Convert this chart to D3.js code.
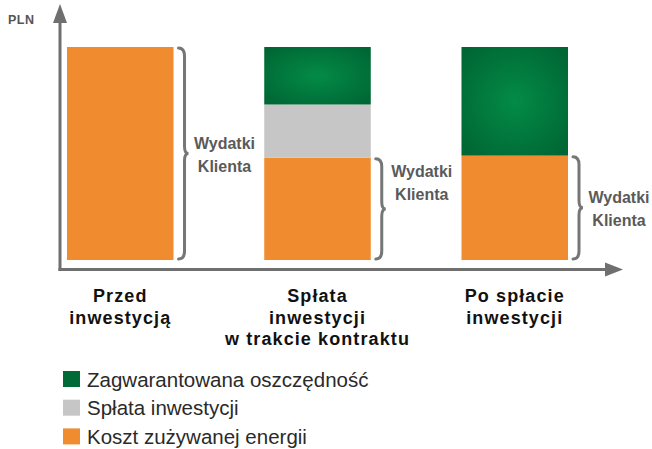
<!DOCTYPE html>
<html>
<head>
<meta charset="utf-8">
<script src="https://cdn.jsdelivr.net/npm/d3@7"></script>
<style>
  body { margin: 0; background: #fff; }
  svg { display: block; font-family: "Liberation Sans", Arial, sans-serif; }
</style>
</head>
<body>
<svg></svg>
<script>
// data
const categories = ["Przed inwestycją", "Spłata inwestycji w trakcie kontraktu", "Po spłacie inwestycji"];
const categoryLines = [["Przed", "inwestycją"], ["Spłata", "inwestycji", "w trakcie kontraktu"], ["Po spłacie", "inwestycji"]];
const energyCost = [100, 48, 49];      // Koszt zużywanej energii
const repayment = [0, 25, 0];           // Spłata inwestycji
const savings = [0, 27, 51];            // Zagwarantowana oszczędność
const seriesNames = ["Zagwarantowana oszczędność", "Spłata inwestycji", "Koszt zużywanej energii"];
const braceLabel = ["Wydatki", "Klienta"];
const yLabel = "PLN";

const svgWidth = 652;
const svgHeight = 449;

const svg = d3.select("svg")
    .attr("width", svgWidth)
    .attr("height", svgHeight);

const colors = {
    energy: "#f08c2f",
    repay: "#c6c6c6",
    axis: "#6f6f6f",
    brace: "#767676"
};

const x = d3.scaleBand()
    .domain(categories)
    .range([67, 568])
    .paddingInner(0.46)
    .paddingOuter(0);

const y = d3.scaleLinear()
    .domain([0, 100])
    .range([260, 47]);

// green radial gradient
const defs = svg.append("defs");
const grad = defs.append("radialGradient")
    .attr("id", "greenGrad")
    .attr("cx", "50%").attr("cy", "50%").attr("r", "65%");
grad.append("stop").attr("offset", "0%").attr("stop-color", "#038b46");
grad.append("stop").attr("offset", "100%").attr("stop-color", "#006634");

// stacked data
const rows = categories.map((c, i) => ({
    cat: c, energy: energyCost[i], repay: repayment[i], save: savings[i]
}));
const stack = d3.stack().keys(["energy", "repay", "save"])(rows);
const fills = { energy: colors.energy, repay: colors.repay, save: "url(#greenGrad)" };

const layer = svg.selectAll(".layer")
    .data(stack)
    .enter()
    .append("g")
    .attr("fill", d => fills[d.key]);

layer.selectAll("rect")
    .data(d => d.filter(p => p[1] - p[0] > 0))
    .enter()
    .append("rect")
    .attr("x", d => x(d.data.cat))
    .attr("y", d => y(d[1]))
    .attr("width", x.bandwidth())
    .attr("height", d => y(d[0]) - y(d[1]));

// axes (plain arrows, no ticks)
const x0 = 60, yBase = 269.5;
svg.append("line")
    .attr("x1", x0).attr("y1", yBase + 1.5)
    .attr("x2", x0).attr("y2", 20)
    .attr("stroke", colors.axis).attr("stroke-width", 3);
svg.append("path")
    .attr("d", `M${x0},4 L${x0 + 7},23 L${x0 - 7},23 Z`)
    .attr("fill", colors.axis);

const xEnd = x.range()[1] + 55;
svg.append("line")
    .attr("x1", x0 - 1.5).attr("y1", yBase)
    .attr("x2", xEnd - 14).attr("y2", yBase)
    .attr("stroke", colors.axis).attr("stroke-width", 3);
svg.append("path")
    .attr("d", `M${xEnd},${yBase} L${xEnd - 18},${yBase - 7} L${xEnd - 18},${yBase + 7} Z`)
    .attr("fill", colors.axis);

svg.append("text")
    .attr("x", 8).attr("y", 24)
    .attr("font-size", 12.5).attr("font-weight", "bold")
    .attr("letter-spacing", 0.5)
    .attr("fill", "#555")
    .text(yLabel);

// braces for "Wydatki Klienta" (energy cost portion)
const labelShift = [0, -27, 0];
const braces = svg.selectAll(".brace")
    .data(rows)
    .enter()
    .append("g")
    .attr("class", "brace");

braces.append("path")
    .attr("fill", "none")
    .attr("stroke", colors.brace)
    .attr("stroke-width", 3)
    .attr("stroke-linecap", "round")
    .attr("d", d => {
        const bx = x(d.cat) + x.bandwidth() + 5;
        const top = y(d.energy), bot = y(0);
        const mid = (top + bot) / 2;
        return `M${bx},${top + 1} Q${bx + 6},${top + 1} ${bx + 6},${top + 9}` +
            ` L${bx + 6},${mid - 7} Q${bx + 6},${mid} ${bx + 10},${mid}` +
            ` Q${bx + 6},${mid} ${bx + 6},${mid + 7}` +
            ` L${bx + 6},${bot - 9} Q${bx + 6},${bot - 1} ${bx},${bot - 1}`;
    });

braces.append("text")
    .attr("font-size", 16).attr("font-weight", "bold")
    .attr("fill", "#5a5a5a")
    .attr("text-anchor", "middle")
    .attr("transform", (d, i) => {
        const mid = (y(d.energy) + y(0)) / 2 + labelShift[i];
        return `translate(${x(d.cat) + x.bandwidth() + 51},${mid - 5})`;
    })
    .selectAll("tspan")
    .data(braceLabel)
    .enter()
    .append("tspan")
    .attr("x", 0)
    .attr("y", (d, i) => i * 23)
    .text(d => d);

// category labels
svg.selectAll(".cat")
    .data(categories)
    .enter()
    .append("text")
    .attr("class", "cat")
    .attr("font-size", 18).attr("font-weight", "bold")
    .attr("letter-spacing", 1.1)
    .attr("fill", "#111")
    .attr("text-anchor", "middle")
    .attr("transform", d => `translate(${x(d) + x.bandwidth() / 2},302)`)
    .selectAll("tspan")
    .data((d, i) => categoryLines[i])
    .enter()
    .append("tspan")
    .attr("x", 0)
    .attr("y", (d, i) => i * 21.5)
    .text(d => d);

// legend
const legendFills = ["url(#greenGrad)", colors.repay, colors.energy];
const legend = svg.selectAll(".legend")
    .data(seriesNames)
    .enter()
    .append("g")
    .attr("class", "legend")
    .attr("transform", (d, i) => `translate(63,${371 + i * 28.7})`);

legend.append("rect")
    .attr("width", 17).attr("height", 16)
    .attr("fill", (d, i) => i === 0 ? "#016b37" : legendFills[i]);

legend.append("text")
    .attr("x", 24).attr("y", 15.5)
    .attr("font-size", 20.5)
    .attr("fill", "#2a2a2a")
    .text(d => d);
</script>
</body>
</html>
